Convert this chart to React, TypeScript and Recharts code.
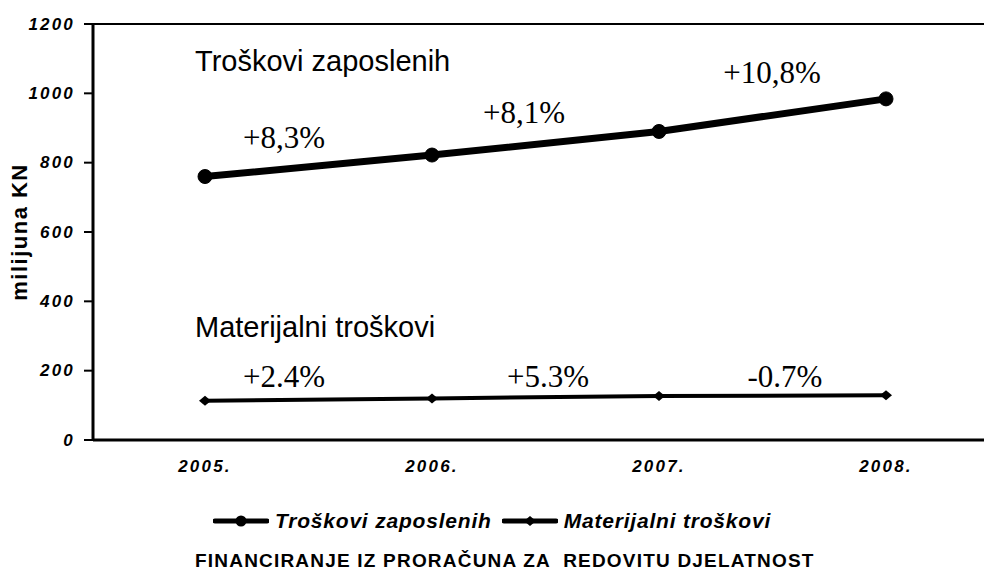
import React from "react"
import { LineChart, Line, XAxis, YAxis, ReferenceLine, ReferenceDot, Legend } from "recharts"

const years = [2005, 2006, 2007, 2008]
const zaposleni = [760, 822, 890, 984]
const materijalni = [113, 120, 127, 129]
const yTicks = [0, 200, 400, 600, 800, 1000, 1200]
const seriesNames = ["Troškovi zaposlenih", "Materijalni troškovi"]
const chartTitle = "FINANCIRANJE IZ PRORAČUNA ZA  REDOVITU DJELATNOST"
const yLabel = "milijuna KN"

// series captions inside the plot, anchored in data units (year, value)
const captionText = ["Troškovi zaposlenih", "Materijalni troškovi"]
const captionYear = [2004.956, 2004.956]
const captionValue = [1064, 297]

// year-on-year growth labels
const growthText = ["+8,3%", "+8,1%", "+10,8%", "+2.4%", "+5.3%", "-0.7%"]
const growthYear = [2005.348, 2006.405, 2007.498, 2005.348, 2006.511, 2007.555]
const growthValue = [842, 914, 1030, 153, 153, 153]

const SANS = "'Liberation Sans', Arial, sans-serif"
const SERIF = "'Liberation Serif', 'Times New Roman', 'DejaVu Serif', serif"

const tickTextStyle = {
  fontFamily: SANS,
  fontSize: "17px",
  fontWeight: "bold",
  fontStyle: "italic",
  letterSpacing: "2.2px",
}

function YTick({ x, y, payload }: any) {
  return (
    <text x={x} y={y} textAnchor="end" dominantBaseline="central" fill="#000" style={tickTextStyle}>
      {payload.value}
    </text>
  )
}

function XTick({ x, y, payload }: any) {
  return (
    <text x={x} y={y} textAnchor="middle" dominantBaseline="central" fill="#000" style={tickTextStyle}>
      {`${payload.value}.`}
    </text>
  )
}

function Diamond({ cx, cy, size = 6 }: { cx: number; cy: number; size?: number }) {
  return (
    <path
      d={`M${cx - size},${cy} L${cx},${cy - size + 1} L${cx + size},${cy} L${cx},${cy + size - 1} Z`}
      fill="#000"
    />
  )
}

function LegendSwatch({ kind }: { kind: "circle" | "diamond" }) {
  return (
    <svg width={56} height={20} style={{ display: "block" }}>
      <line x1={2} y1={10} x2={54} y2={10} stroke="#000" strokeWidth={5} strokeLinecap="round" />
      {kind === "circle" ? <circle cx={28} cy={10} r={5.5} fill="#000" /> : <Diamond cx={28} cy={10} size={6} />}
    </svg>
  )
}

function renderLegend() {
  return (
    <div style={{ display: "flex", justifyContent: "center", paddingTop: 30 }}>
      {seriesNames.map((name, i) => (
        <div key={name} style={{ display: "flex", alignItems: "center", marginLeft: i ? 10 : 0 }}>
          <LegendSwatch kind={i === 0 ? "circle" : "diamond"} />
          <span
            style={{
              marginLeft: 6,
              fontFamily: SANS,
              fontSize: 21,
              fontWeight: "bold",
              fontStyle: "italic",
              letterSpacing: "0.8px",
              lineHeight: "22px",
              color: "#000",
            }}
          >
            {name}
          </span>
        </div>
      ))}
    </div>
  )
}

export default function App() {
  const data = years.map((year, i) => ({
    year,
    zaposleni: zaposleni[i],
    materijalni: materijalni[i],
  }))

  return (
    <div style={{ position: "relative", width: 984, height: 576, background: "#fff" }}>
      <style>{"body{margin:0}"}</style>
      <LineChart width={984} height={576} data={data} margin={{ top: 24, right: 0, left: 0, bottom: 50 }}>
        <XAxis
          dataKey="year"
          type="number"
          domain={[2004.5066, 2008.4317]}
          allowDataOverflow
          ticks={years}
          height={40}
          axisLine={{ stroke: "#000", strokeWidth: 3 }}
          tickLine={false}
          tickSize={0}
          tickMargin={26}
          tick={<XTick />}
        />
        <YAxis
          type="number"
          domain={[0, 1200]}
          ticks={yTicks}
          width={93}
          axisLine={{ stroke: "#000", strokeWidth: 3 }}
          tickLine={{ stroke: "#000", strokeWidth: 2 }}
          tickSize={9}
          tickMargin={9}
          tick={<YTick />}
        />
        <ReferenceLine y={1200} stroke="#000" strokeWidth={2} />
        <Line
          dataKey="zaposleni"
          name={seriesNames[0]}
          stroke="#000"
          strokeWidth={7}
          dot={{ r: 7, fill: "#000", stroke: "#000", strokeWidth: 1 }}
          isAnimationActive={false}
        />
        <Line
          dataKey="materijalni"
          name={seriesNames[1]}
          stroke="#000"
          strokeWidth={4}
          dot={(p: any) => <Diamond key={`d-${p.index}`} cx={p.cx} cy={p.cy} size={6} />}
          isAnimationActive={false}
        />
        {captionText.map((t, i) => (
          <ReferenceDot
            key={t}
            x={captionYear[i]}
            y={captionValue[i]}
            r={0}
            ifOverflow="visible"
            shape={(p: any) => (
              <text x={p.cx} y={p.cy} textAnchor="start" style={{ fontFamily: SANS, fontSize: "29px" }} fill="#000">
                {t}
              </text>
            )}
          />
        ))}
        {growthText.map((t, i) => (
          <ReferenceDot
            key={`${t}-${i}`}
            x={growthYear[i]}
            y={growthValue[i]}
            r={0}
            ifOverflow="visible"
            shape={(p: any) => (
              <text x={p.cx} y={p.cy} textAnchor="middle" style={{ fontFamily: SERIF, fontSize: "31px" }} fill="#000">
                {t}
              </text>
            )}
          />
        ))}
        <Legend verticalAlign="bottom" height={46} content={renderLegend} />
      </LineChart>
      <div
        style={{
          position: "absolute",
          left: 20,
          top: 232,
          transform: "translate(-50%, -50%) rotate(-90deg)",
          whiteSpace: "nowrap",
          fontFamily: SANS,
          fontWeight: "bold",
          fontSize: 22,
          letterSpacing: "1.5px",
          color: "#000",
        }}
      >
        {yLabel}
      </div>
      <div
        style={{
          position: "absolute",
          left: 195,
          top: 550,
          whiteSpace: "pre",
          fontFamily: SANS,
          fontWeight: "bold",
          fontSize: 19,
          lineHeight: "22px",
          letterSpacing: "1.2px",
          color: "#000",
        }}
      >
        {chartTitle}
      </div>
    </div>
  )
}
